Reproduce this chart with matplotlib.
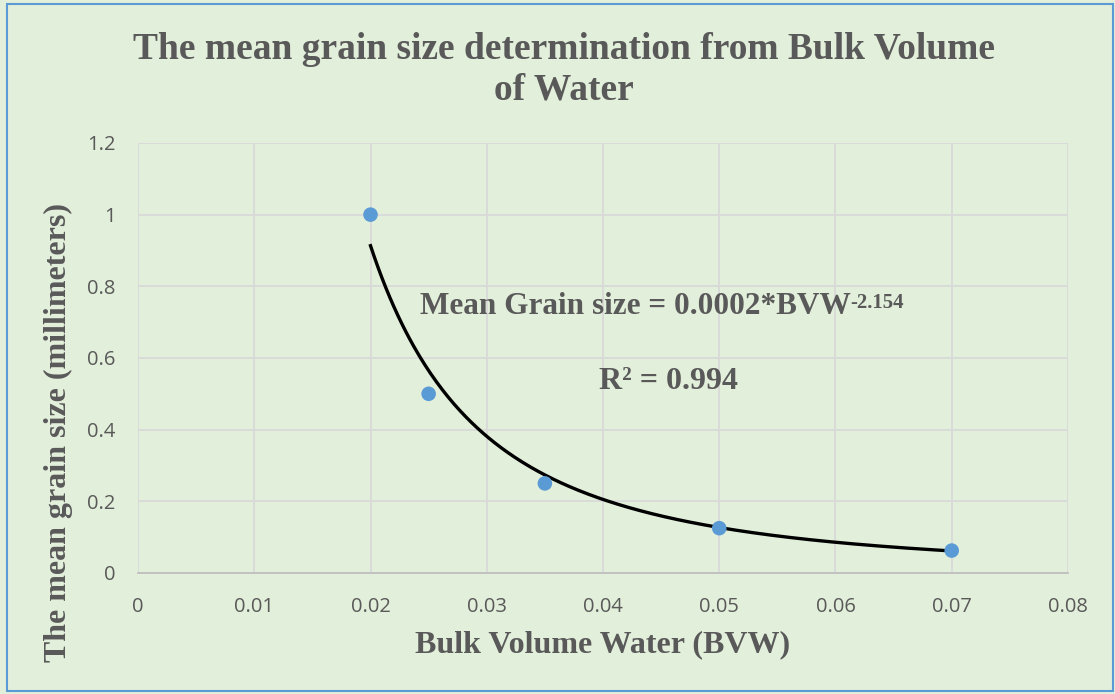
import numpy as np
import matplotlib.pyplot as plt
from matplotlib.patches import Rectangle

# Measured samples
bvw = [0.02, 0.025, 0.035, 0.05, 0.07]
grain_size = [1.0, 0.5, 0.25, 0.125, 0.0625]

# Power-law trendline parameters: y = a * x^b
coef_a = 0.0002
coef_b = -2.154
r_squared = 0.994

x_ticks = [0, 0.01, 0.02, 0.03, 0.04, 0.05, 0.06, 0.07, 0.08]
x_tick_labels = ["0", "0.01", "0.02", "0.03", "0.04", "0.05", "0.06", "0.07", "0.08"]
y_ticks = [0, 0.2, 0.4, 0.6, 0.8, 1.0, 1.2]
y_tick_labels = ["0", "0.2", "0.4", "0.6", "0.8", "1", "1.2"]

BG = "#E2EFDA"
TEXT = "#595959"
GRID = "#D9D9D9"
SERIF = "Liberation Serif"


def main():
    fig = plt.figure(figsize=(11.15, 6.94), dpi=100, facecolor=BG)
    ax = fig.add_axes([0.1238, 0.1744, 0.834, 0.6196])
    ax.set_facecolor(BG)

    # grid and frame
    ax.set_xlim(0, 0.08)
    ax.set_ylim(0, 1.2)
    ax.set_xticks(x_ticks)
    ax.set_xticklabels(x_tick_labels)
    ax.set_yticks(y_ticks)
    ax.set_yticklabels(y_tick_labels)
    ax.grid(True, color=GRID, linewidth=1.3)
    ax.set_axisbelow(True)
    for side in ["top", "right", "left"]:
        ax.spines[side].set_visible(False)
    ax.spines["bottom"].set_color("#BFBFBF")
    ax.spines["bottom"].set_linewidth(1.3)
    ax.tick_params(length=0, labelsize=14.5, labelcolor=TEXT)
    ax.tick_params(axis="x", pad=17)
    ax.tick_params(axis="y", pad=16)
    for lbl in ax.get_xticklabels() + ax.get_yticklabels():
        lbl.set_family("Open Sans")

    # trendline
    xs = np.linspace(min(bvw), max(bvw), 300)
    ax.plot(xs, coef_a * xs ** coef_b, color="black", linewidth=2.4,
            zorder=3)

    # data points
    ax.scatter(bvw, grain_size, s=110, color="#5B9BD5", zorder=4,
               edgecolors="none")

    # trendline equation, exponent drawn as a separate superscript
    eq = ax.text(0.0243, 0.745, "Mean Grain size = %s*BVW" % coef_a,
                 family=SERIF, fontweight="bold", fontsize=22.5, color=TEXT,
                 ha="left", va="center")
    ax.annotate("%s" % coef_b, xy=(1.0, 0.95), xycoords=eq,
                xytext=(-1, 0), textcoords="offset points",
                family=SERIF, fontweight="bold", fontsize=15, color=TEXT,
                ha="left", va="top")
    ax.text(0.0456, 0.533, "R² = %s" % r_squared, family=SERIF,
            fontweight="bold", fontsize=23, color=TEXT, ha="center",
            va="center")

    fig.text(0.5054, 0.899,
             "The mean grain size determination from Bulk Volume\nof Water",
             family=SERIF, fontweight="bold", fontsize=27, color=TEXT,
             ha="center", va="center", linespacing=1.2)
    fig.text(0.5408, 0.0706, "Bulk Volume Water (BVW)", family=SERIF,
             fontweight="bold", fontsize=23, color=TEXT, ha="center",
             va="center")
    fig.text(0.0525, 0.3775, "The mean grain size (millimeters)",
             family=SERIF, fontweight="bold", fontsize=23, color=TEXT,
             ha="center", va="center", rotation=90)

    # outer chart border
    fig.patches.append(Rectangle((0.006, 0.004), 0.992, 0.99,
                                 transform=fig.transFigure, fill=False,
                                 edgecolor="#5B9BD5", linewidth=1.5))

    fig.savefig("out.png", dpi=100, facecolor=BG)


if __name__ == "__main__":
    main()
